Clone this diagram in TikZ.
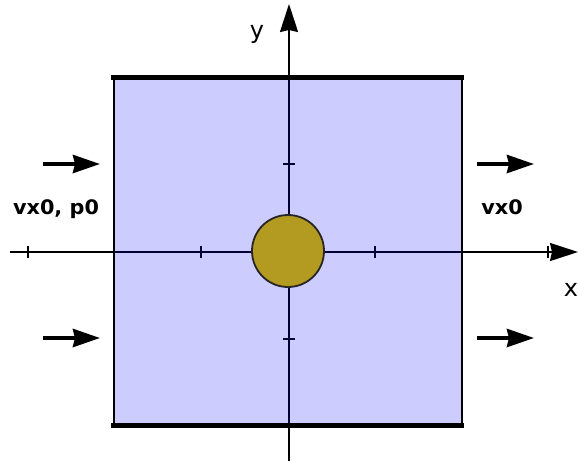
\documentclass[tikz,border=0pt]{standalone}
\usepackage{fontspec}
\setmainfont{DejaVu Sans}
\usetikzlibrary{arrows.meta}
\definecolor{gold}{RGB}{179,154,32}
\tikzset{
  axis/.style={line width=1.8pt, draw=black},
  axtip/.style={-{Stealth[length=28pt,width=18pt,inset=2pt]}},
  flow/.style={line width=4pt, -{Stealth[length=27pt,width=18pt,inset=2pt]}},
  tick/.style={line width=1.8pt},
  wall/.style={line width=5pt, line cap=butt},
  side/.style={line width=2pt},
  flowlabel/.style={font=\fontsize{20}{22}\selectfont\bfseries, xscale=1.04, transform shape, inner sep=0pt, anchor=base},
  axlabel/.style={font=\fontsize{24}{26}\selectfont, inner sep=0pt, anchor=base}
}
\begin{document}
\begin{tikzpicture}[x=1pt,y=-1pt]
\useasboundingbox (0,0) rectangle (578,461);
% axes
\coordinate (xs) at (10,252);
\coordinate (xe) at (578,252);
\coordinate (ys) at (289,461);
\coordinate (ye) at (289,4);
\draw[axis,axtip] (xs) -- (xe);
\draw[axis,axtip] (ys) -- (ye);
\foreach \t in {28,201,375,548} \draw[tick] (\t,246) -- (\t,258);
\foreach \t in {164,339} \draw[tick] (283,\t) -- (295,\t);
% domain
\coordinate (tl) at (114,77);
\coordinate (br) at (462,425);
\fill[blue, fill opacity=0.2] (tl) rectangle (br);
\draw[side] (114,77) -- (114,425);
\draw[side] (462,77) -- (462,425);
\draw[wall] (111,77) -- (464,77);
\draw[wall] (111,425) -- (464,425);
% cylinder
\node[circle, draw=black!85, line width=1.8pt, fill=gold, minimum size=72pt, inner sep=0pt] (cyl) at (288,251) {};
% flow arrows
\coordinate (la1) at (43,164); \coordinate (lb1) at (100,164);
\coordinate (la2) at (43,338); \coordinate (lb2) at (100,338);
\coordinate (ra1) at (477,164); \coordinate (rb1) at (534,164);
\coordinate (ra2) at (477,338); \coordinate (rb2) at (534,338);
\draw[flow] (la1) -- (lb1);
\draw[flow] (la2) -- (lb2);
\draw[flow] (ra1) -- (rb1);
\draw[flow] (ra2) -- (rb2);
% labels
\node[flowlabel] (inl) at (56,214) {vx0, p0};
\node[flowlabel] (outl) at (502,214) {vx0};
\node[axlabel] (ylab) at (257,38) {y};
\node[axlabel] (xlab) at (571,296) {x};
\end{tikzpicture}
\end{document}
